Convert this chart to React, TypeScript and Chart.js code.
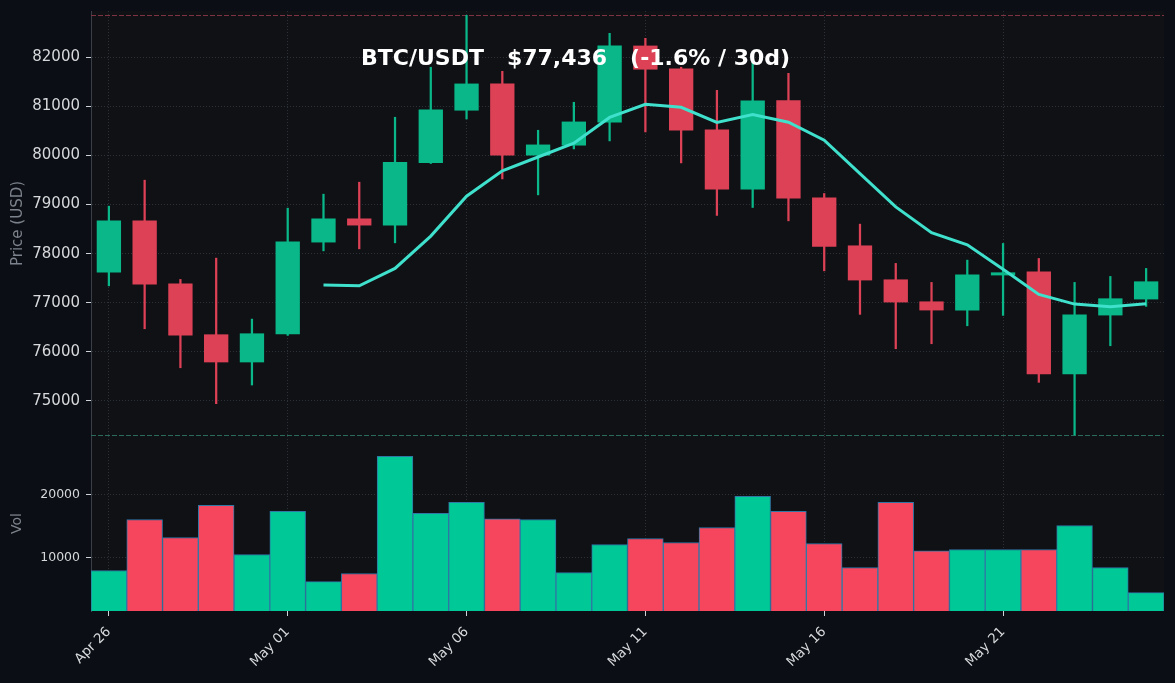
import { useEffect, useRef } from 'react';
import { Chart, registerables } from 'chart.js';
import type { ChartOptions, Plugin } from 'chart.js';

Chart.register(...registerables);

// daily candles, Apr 26 - May 25
const DATES = [
  'Apr 26', 'Apr 27', 'Apr 28', 'Apr 29', 'Apr 30',
  'May 01', 'May 02', 'May 03', 'May 04', 'May 05', 'May 06', 'May 07', 'May 08', 'May 09', 'May 10',
  'May 11', 'May 12', 'May 13', 'May 14', 'May 15', 'May 16', 'May 17', 'May 18', 'May 19', 'May 20',
  'May 21', 'May 22', 'May 23', 'May 24', 'May 25',
];
const OPEN = [
  77619, 78677, 77395, 76357, 75787, 76357, 78229, 78717, 78575, 79849,
  80915, 81465, 80000, 80203, 80671, 82238, 81770, 80529, 79308, 81125,
  79145, 78168, 77476, 77028, 76845, 77558, 77639, 75543, 76743, 77069,
];
const CLOSE = [
  78677, 77374, 76336, 75787, 76377, 78249, 78717, 78575, 79869, 80936,
  81465, 80000, 80223, 80691, 82238, 81750, 80508, 79308, 81119, 79124,
  78140, 77456, 77008, 76845, 77578, 77620, 75543, 76764, 77090, 77436,
];
const HIGH = [
  78968, 79497, 77476, 77910, 76668, 78927, 79212, 79456, 80779, 81797,
  82855, 81715, 80514, 81084, 82488, 82387, 81797, 81328, 82050, 81674,
  79226, 78602, 77802, 77415, 77869, 78209, 77903, 77415, 77537, 77700,
];
const LOW = [
  77346, 76471, 75677, 74945, 75325, 76336, 78058, 78099, 78221, 79837,
  80744, 79523, 79198, 80134, 80297, 80480, 79849, 78779, 78941, 78669,
  77651, 76764, 76064, 76166, 76532, 76743, 75380, 74308, 76125, 76927,
];
// 7-day moving average
const MA7 = [
  null, null, null, null, null, null, 77360, 77345, 77701, 78359,
  79170, 79687, 79969, 80251, 80775, 81043, 80982, 80674, 80834, 80677,
  80312, 79629, 78952, 78429, 78181, 77682, 77170, 76973, 76921, 76982,
];
const VOLUME = [
  8013, 16056, 13217, 18263, 10536, 17317, 6278, 7540, 25991, 17002,
  18737, 16150, 16056, 7698, 12113, 13059, 12429, 14794, 19683, 17317,
  12271, 8486, 18737, 11104, 11325, 11325, 11325, 15109, 8486, 4544,
];

const PRICE_TICKS = [75000, 76000, 77000, 78000, 79000, 80000, 81000, 82000];
const VOL_TICKS = [10000, 20000];

const PERIOD_HIGH = 82855;
const PERIOD_LOW = 74308;
const PRICE_MIN = 74287;
const PRICE_MAX = 82943;
const VOL_MIN = 1640;
const VOL_MAX = 29200;
const TITLE = 'BTC/USDT   $77,436   (-1.6% / 30d)';

const PAGE_BG = '#0b0e14';
const PLOT_BG = '#0f1115';
const GRID = '#2c3038';
const SPINE = '#3a3f47';
const TICK = '#cfd2d6';
const TICK_TEXT = '#d6d8db';
const AXIS_TITLE = '#7c828b';
const GREEN = '#09b788';
const RED = '#dd4156';
const VOL_GREEN = '#00c896';
const VOL_RED = '#f6465d';

Chart.defaults.font.family = "'DejaVu Sans', sans-serif";

const up = (i: number) => CLOSE[i] >= OPEN[i];
const xGrid = (c: any) => (c.index % 5 === 0 ? GRID : 'transparent');

// keep the plot area where the layout puts it, without label overhang padding
const noPad = (s: any) => {
  s.paddingTop = 0;
  s.paddingBottom = 0;
  s.paddingLeft = 0;
  s.paddingRight = 0;
};

const plotBg: Plugin = {
  id: 'plotBg',
  beforeDraw(chart) {
    const { ctx, chartArea: a } = chart;
    ctx.save();
    ctx.fillStyle = PLOT_BG;
    ctx.fillRect(a.left, a.top, a.right - a.left, a.bottom - a.top);
    ctx.restore();
  },
};

const refLines: Plugin = {
  id: 'refLines',
  beforeDatasetsDraw(chart) {
    const { ctx, chartArea: a } = chart;
    const y = chart.scales.y;
    const line = (v: number, c: string) => {
      const py = Math.round(y.getPixelForValue(v)) + 0.5;
      ctx.save();
      ctx.setLineDash([5, 2]);
      ctx.strokeStyle = c;
      ctx.lineWidth = 1;
      ctx.beginPath();
      ctx.moveTo(a.left, py);
      ctx.lineTo(a.right, py);
      ctx.stroke();
      ctx.restore();
    };
    line(PERIOD_HIGH, '#7d3342');
    line(PERIOD_LOW, '#2b6b5e');
  },
};

const App: React.FC = () => {
  const priceRef = useRef<HTMLCanvasElement | null>(null);
  const volRef = useRef<HTMLCanvasElement | null>(null);

  useEffect(() => {
    const pctx = priceRef.current?.getContext('2d');
    const vctx = volRef.current?.getContext('2d');
    if (!pctx || !vctx) return;

    const priceOptions: ChartOptions<'bar'> = {
      responsive: true,
      maintainAspectRatio: false,
      animation: false,
      layout: { padding: { top: 11, right: 11, left: 0, bottom: 0 } },
      plugins: { legend: { display: false }, tooltip: { enabled: false } },
      scales: {
        x: {
          offset: true,
          grid: { offset: false, color: xGrid, drawTicks: false },
          border: { display: false, dash: [1, 2] },
          ticks: { display: false },
          afterFit: (s) => { s.height = 0; noPad(s); },
        },
        y: {
          min: PRICE_MIN,
          max: PRICE_MAX,
          grid: { color: GRID, tickColor: TICK, tickLength: 5 },
          border: { display: true, color: SPINE, dash: [1, 2] },
          ticks: {
            color: TICK_TEXT,
            font: { size: 15 },
            padding: 6,
            callback: (v) => String(v),
          },
          afterBuildTicks: (s) => { s.ticks = PRICE_TICKS.map((value) => ({ value })); },
          title: { display: true, text: 'Price (USD)', color: AXIS_TITLE, font: { size: 15 }, padding: { top: 9, bottom: 0 } },
          afterFit: (s) => { s.width = 91; noPad(s); },
        },
      },
    };

    const priceChart = new Chart(pctx, {
      type: 'bar',
      data: {
        labels: DATES,
        datasets: [
          {
            label: 'wick',
            data: LOW.map((l, i) => [l, HIGH[i]]) as any,
            backgroundColor: DATES.map((_, i) => (up(i) ? GREEN : RED)),
            barThickness: 1.6,
            grouped: false,
            order: 3,
          },
          {
            label: 'body',
            data: OPEN.map((o, i) => [o, CLOSE[i]]) as any,
            backgroundColor: DATES.map((_, i) => (up(i) ? GREEN : RED)),
            categoryPercentage: 1,
            barPercentage: 0.68,
            grouped: false,
            order: 2,
          },
          {
            type: 'line',
            label: 'MA7',
            data: MA7 as any,
            borderColor: '#3fe0cc',
            borderWidth: 3,
            pointRadius: 0,
            order: 1,
          } as any,
        ],
      },
      options: priceOptions,
      plugins: [plotBg, refLines],
    });

    const volOptions: ChartOptions<'bar'> = {
      responsive: true,
      maintainAspectRatio: false,
      animation: false,
      layout: { padding: { top: 0, right: 11, left: 0, bottom: 0 } },
      plugins: { legend: { display: false }, tooltip: { enabled: false } },
      scales: {
        x: {
          offset: true,
          grid: {
            offset: false,
            color: xGrid,
            tickColor: (c: any) => (c.index % 5 === 0 ? TICK : 'transparent'),
            tickLength: 5,
          },
          border: { display: false, dash: [1, 2] },
          ticks: {
            autoSkip: false,
            maxRotation: 45,
            minRotation: 45,
            padding: 8,
            color: TICK_TEXT,
            font: { size: 13.5 },
            callback: (_v, i) => (i % 5 === 0 ? DATES[i] : ''),
          },
          afterFit: (s) => { s.height = 72; noPad(s); },
        },
        y: {
          min: VOL_MIN,
          max: VOL_MAX,
          grid: { color: GRID, tickColor: TICK, tickLength: 5 },
          border: { display: true, color: SPINE, dash: [1, 2] },
          ticks: {
            color: TICK_TEXT,
            font: { size: 12.5 },
            padding: 6,
            callback: (v) => String(v),
          },
          afterBuildTicks: (s) => { s.ticks = VOL_TICKS.map((value) => ({ value })); },
          title: { display: true, text: 'Vol', color: AXIS_TITLE, font: { size: 14 }, padding: { top: 9, bottom: 0 } },
          afterFit: (s) => { s.width = 91; noPad(s); },
        },
      },
    };

    const volChart = new Chart(vctx, {
      type: 'bar',
      data: {
        labels: DATES,
        datasets: [
          {
            label: 'Volume',
            data: VOLUME,
            backgroundColor: DATES.map((_, i) => (up(i) ? VOL_GREEN : VOL_RED)),
            borderColor: '#2f78a6',
            borderWidth: 1,
            categoryPercentage: 1,
            barPercentage: 1,
          },
        ],
      },
      options: volOptions,
      plugins: [plotBg],
    });

    return () => {
      priceChart.destroy();
      volChart.destroy();
    };
  }, []);

  return (
    <div style={{ position: 'fixed', left: 0, top: 0, width: 1175, height: 683, background: PAGE_BG, overflow: 'hidden' }}>
      <div style={{ position: 'absolute', left: 0, top: 0, width: 1175, height: 436 }}>
        <canvas ref={priceRef}></canvas>
      </div>
      <div style={{ position: 'absolute', left: 0, top: 436, width: 1175, height: 247 }}>
        <canvas ref={volRef}></canvas>
      </div>
      <div
        style={{
          position: 'absolute', left: 361, top: 47, color: '#ffffff', whiteSpace: 'pre',
          font: "700 22px 'DejaVu Sans', sans-serif", lineHeight: '22px', pointerEvents: 'none',
        }}
      >
        {TITLE}
      </div>
    </div>
  );
};

export default App;
